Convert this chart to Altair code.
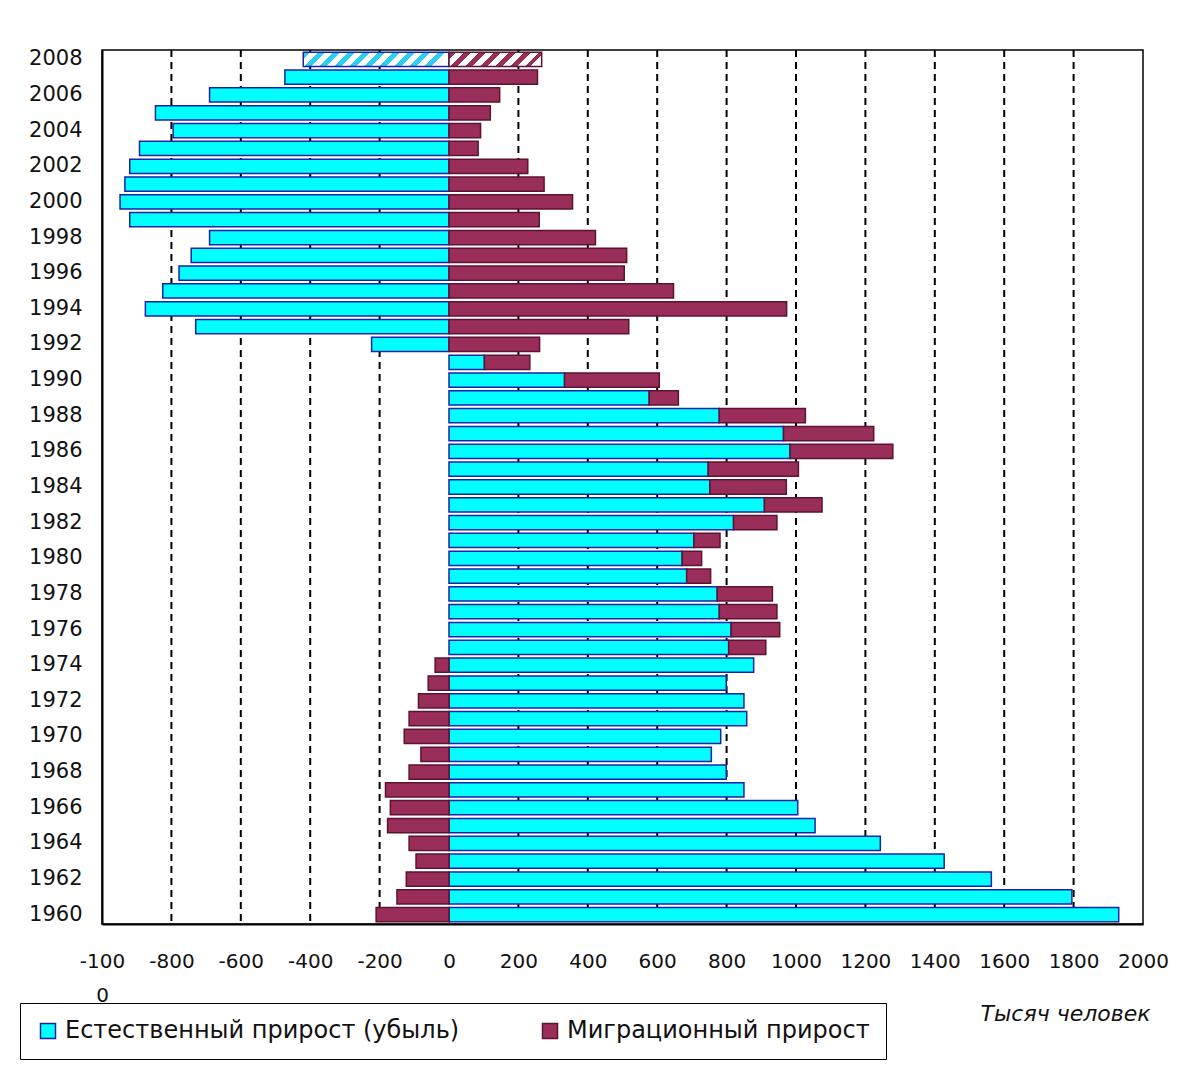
import altair as alt
import pandas as pd

# ---------------- data (thousand persons) ----------------
YEARS = list(range(1960, 2009))
NATURAL = [1930, 1795, 1563, 1427, 1243, 1055, 1005, 850, 799, 756,
           783, 858, 850, 799, 878, 806, 813, 779, 773, 685,
           672, 706, 820, 909, 752, 747, 983, 964, 779, 577,
           333, 102, -223, -730, -875, -825, -778, -743, -690, -920,
           -948, -934, -920, -892, -795, -846, -690, -473, -420]
MIGRATION = [-210, -150, -123, -95, -115, -177, -169, -183, -115, -81,
             -129, -115, -88, -60, -40, 107, 140, 166, 159, 69,
             56, 75, 125, 166, 220, 260, 296, 260, 248, 84,
             273, 131, 261, 518, 973, 647, 505, 512, 422, 260,
             356, 274, 227, 84, 91, 119, 146, 255, 267]
SERIES = ["Естественный прирост (убыль)", "Миграционный прирост"]
X_TICKS = list(range(-1000, 2001, 200))
GRID_TICKS = [-800, -600, -400, -200, 200, 400, 600, 800, 1000, 1200, 1400, 1600, 1800]
Y_LABELS = list(range(2008, 1959, -2))
ESTIMATE_YEAR = 2008
UNIT_LABEL = "Тысяч человек"

# ---------------- table ----------------
rows = []
for yr, n, m in zip(YEARS, NATURAL, MIGRATION):
    rows.append(dict(year=yr, series=SERIES[0], start=0, end=n))
    if (n >= 0) == (m >= 0):
        ms, me = n, n + m
    else:
        ms, me = 0, m
    rows.append(dict(year=yr, series=SERIES[1], start=ms, end=me))
df = pd.DataFrame(rows)

# ---------------- style ----------------
W, H = 1041, 874
XMIN, XMAX = -1000, 2000
FILLS = ["#00ffff", "#9a2e5a"]
STROKES = ["#1c22a8", "#5e1232"]
PAD_INNER, PAD_OUTER = 0.2, 0.125
FONT = "DejaVu Sans"

step = H / (len(YEARS) - PAD_INNER + 2 * PAD_OUTER)
band = step * (1 - PAD_INNER)
px_per_unit = W / (XMAX - XMIN)


def hatch(color, value, period=15.0):
    w = abs(value) * px_per_unit
    r = band / w
    tp = period / (w * (1 + r * r))
    stops = []
    a = 0.0
    while a < 1:
        b = min(a + tp / 2, 1.0)
        c = min(a + tp, 1.0)
        stops += [{"offset": a, "color": color}, {"offset": b, "color": color},
                  {"offset": b, "color": "white"}, {"offset": c, "color": "white"}]
        a += tp
    return {"gradient": "linear", "x1": 0, "y1": 0, "x2": 1, "y2": r, "stops": stops}


est_idx = YEARS.index(ESTIMATE_YEAR)
est_nat = NATURAL[est_idx]
est_mig = MIGRATION[est_idx]

x_scale = alt.Scale(domain=[XMIN, XMAX], nice=False, zero=False)
x_axis = alt.Axis(
    values=X_TICKS, grid=False, ticks=False, labelPadding=27,
    labelFontSize=20, labelLineHeight=34, labelOverlap=False, labelFlush=False,
    labelExpr="datum.value == -1000 ? ['-100', '0'] : '' + datum.value",
    title=UNIT_LABEL, titleFontStyle="italic", titleFontWeight="normal",
    titleFontSize=22, titleX=1048, titleY=96, titleAlign="right",
    titleBaseline="alphabetic", titleColor="#111",
    domainWidth=2, domainColor="black", labelColor="#111",
)
y_scale = alt.Scale(paddingInner=PAD_INNER, paddingOuter=PAD_OUTER)
y_axis = alt.Axis(values=Y_LABELS, title=None, ticks=False, labelPadding=20,
                  labelFontSize=21, domainWidth=2, domainColor="black",
                  labelColor="#111")

y_enc = alt.Y("year:O", sort="descending", scale=y_scale, axis=y_axis)

grid = alt.Chart(pd.DataFrame({"g": GRID_TICKS})).mark_rule(
    color="black", strokeWidth=2, strokeDash=[7, 5]
).encode(x=alt.X("g:Q", scale=x_scale, axis=x_axis))

legend = alt.Legend(title=None)

bars = alt.Chart(df).transform_filter(
    alt.datum.year != ESTIMATE_YEAR
).mark_bar(strokeWidth=1.5).encode(
    x=alt.X("start:Q", scale=x_scale, axis=x_axis),
    x2="end:Q",
    y=y_enc,
    color=alt.Color("series:N", scale=alt.Scale(domain=SERIES, range=FILLS), legend=legend),
    stroke=alt.Stroke("series:N", scale=alt.Scale(domain=SERIES, range=STROKES), legend=legend),
)

est_nat_bar = alt.Chart(df).transform_filter(
    (alt.datum.year == ESTIMATE_YEAR) & (alt.datum.series == SERIES[0])
).mark_bar(strokeWidth=1.5, fill=hatch("#2ccff2", est_nat), stroke=STROKES[0]).encode(
    x=alt.X("start:Q", scale=x_scale, axis=x_axis), x2="end:Q", y=y_enc
)

est_mig_bar = alt.Chart(df).transform_filter(
    (alt.datum.year == ESTIMATE_YEAR) & (alt.datum.series == SERIES[1])
).mark_bar(strokeWidth=1.5, fill=hatch(FILLS[1], est_mig), stroke=STROKES[1]).encode(
    x=alt.X("start:Q", scale=x_scale, axis=x_axis), x2="end:Q", y=y_enc
)

chart = alt.layer(grid, bars, est_nat_bar, est_mig_bar).properties(
    width=W, height=H,
    autosize=alt.AutoSizeParams(type="none"),
    padding={"left": 94, "top": 42, "right": 40, "bottom": 136},
    background="white",
).configure_view(
    stroke="black", strokeWidth=1.5
).configure_axis(
    labelFont=FONT, titleFont=FONT
).configure_legend(
    orient="none", legendX=-82, legendY=953, direction="horizontal",
    strokeColor="black", padding=16, symbolType="square", symbolSize=225,
    symbolStrokeWidth=1.5, labelFont=FONT, labelFontSize=24, labelLimit=0,
    labelColor="#111", columnPadding=78, labelOffset=5,
)

chart.save("out.html", embed_options={"renderer": "svg", "actions": False})
